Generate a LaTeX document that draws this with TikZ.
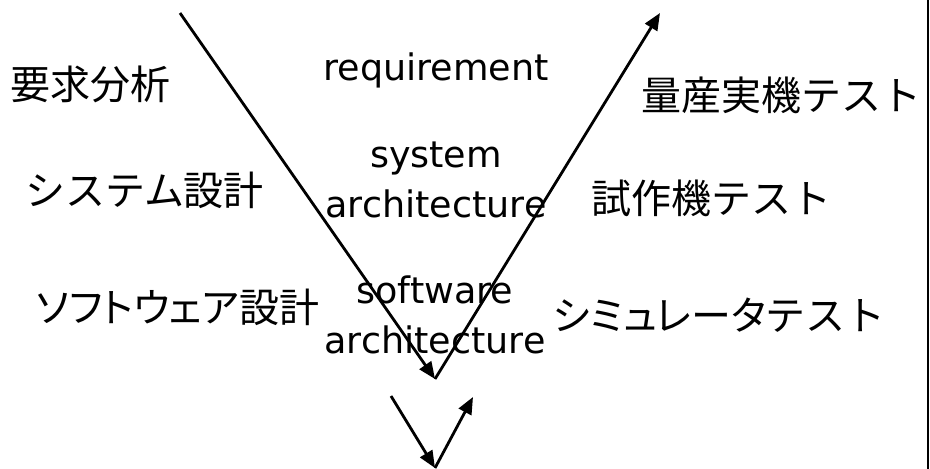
\documentclass[tikz,border=0pt]{standalone}
\usepackage{fontspec}
\setmainfont{DejaVu Sans}
\newfontfamily\jpfont{Noto Sans CJK JP}
\newfontfamily\jpprop[RawFeature=+palt]{Noto Sans CJK JP}
\usetikzlibrary{arrows.meta}
\tikzset{
  vline/.style={line width=2.8pt, -{Triangle[length=17pt,width=14pt]}},
  jplabel/.style={inner sep=0pt, anchor=west, font=\jpfont\fontsize{40}{48}\selectfont},
  enlabel/.style={inner sep=0pt, anchor=base, align=center, font=\fontsize{36.5}{49.5}\selectfont},
}
\begin{document}
\begin{tikzpicture}[x=1pt,y=-1pt]
\useasboundingbox (0,0) rectangle (930,469);

% design phases (left side)
\node[jplabel] (req)  at (10,84)  {要求分析};
\node[jplabel] (sysd) at (25,190) {システム設計};
\node[jplabel] (swd)  at (36,307) {{\jpprop ソフトウェア}設計};

% test phases (right side)
\node[jplabel] (mass)  at (641,95)  {量産実機テスト};
\node[jplabel] (proto) at (591,198) {試作機テスト};
\node[jplabel] (sim)   at (553,315) {{\jpprop シミュレータ}テスト};

% artefacts in the middle (anchor = baseline of the last line)
\node[enlabel] (reqtxt)  at (436,80)  {requirement};
\node[enlabel] (systxt)  at (436,217) {system\\architecture};
\node[enlabel] (swtxt)   at (435,353) {software\\architecture};

% big V
\coordinate (vtl) at (180,13);
\coordinate (vb)  at (435,379);
\coordinate (vtr) at (660,13);
\draw[vline] (vtl) -- (vb);
\draw[vline] (vb) -- (vtr);

% small V
\coordinate (stl) at (391,396);
\coordinate (sb)  at (435,468);
\coordinate (str) at (473,397);
\draw[vline] (stl) -- (sb);
\draw[vline] (sb) -- (str);

% right edge rule
\coordinate (et) at (928,0);
\coordinate (eb) at (928,469);
\draw[line width=2pt] (et) -- (eb);
\end{tikzpicture}
\end{document}
